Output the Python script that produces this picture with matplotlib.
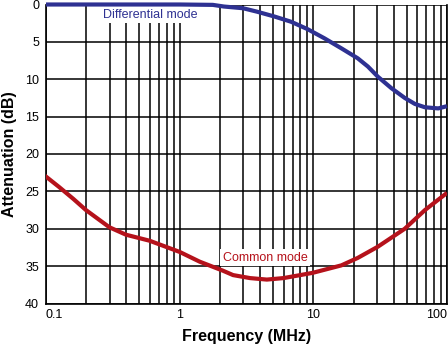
import numpy as np
import matplotlib
matplotlib.use("Agg")
import matplotlib.pyplot as plt
from matplotlib.ticker import FixedLocator, NullFormatter

plt.rcParams['font.family'] = ['Liberation Sans', 'DejaVu Sans']

# Data
diff_freq = [0.1, 0.5, 1.0, 1.77, 2.14, 2.98, 3.79, 5.1, 6.8, 9.06, 12.1, 16.2, 21.5, 25.6, 30.4, 38.4, 48.3, 57.5, 68.4, 86.0, 100.0]
diff_att = [0.0, 0.0, 0.0, 0.05, 0.27, 0.5, 0.96, 1.6, 2.3, 3.3, 4.52, 5.86, 7.2, 8.3, 9.66, 11.2, 12.5, 13.3, 13.75, 13.9, 13.6]

cm_freq = [0.098, 0.125, 0.16, 0.199, 0.298, 0.397, 0.595, 1.0, 1.41, 2.1, 2.51, 3.36, 4.49, 5.98, 7.98, 9.88, 16.2, 21.5, 30.4, 48.3, 68.4, 100.0]
cm_att = [22.9, 24.4, 26.0, 27.5, 29.8, 30.8, 31.6, 33.1, 34.4, 35.6, 36.2, 36.6, 36.8, 36.6, 36.2, 35.9, 34.9, 33.9, 32.4, 30.0, 27.5, 25.2]

x_ticks = [0.1, 1, 10, 100]
x_tick_labels = ["0.1", "1", "10", "100"]
y_ticks = [0, 5, 10, 15, 20, 25, 30, 35, 40]

blue = "#2e3192"
red = "#b5121b"

fig = plt.figure(figsize=(4.48, 3.44), dpi=100)
ax = fig.add_axes([46/448, 40.5/344, 401/448, 299/344])

ax.set_xscale('log')
ax.set_xlim(0.1, 100)
ax.set_ylim(40, 0)

ax.xaxis.set_major_locator(FixedLocator(x_ticks))
minor = [m * d for d in (0.1, 1, 10) for m in range(2, 10)]
ax.xaxis.set_minor_locator(FixedLocator(minor))
ax.xaxis.set_minor_formatter(NullFormatter())
ax.set_xticklabels(x_tick_labels)
ax.set_yticks(y_ticks)

ax.grid(True, which='both', axis='x', color='black', lw=1.1, zorder=1)
ax.grid(True, which='major', axis='y', color='black', lw=1.1, zorder=1)
ax.set_axisbelow(True)

ax.tick_params(axis='both', which='both', length=0, labelsize=9)
ax.tick_params(axis='y', pad=5)
ax.tick_params(axis='x', pad=4)
labels = ax.get_xticklabels()
labels[0].set_horizontalalignment('left')
labels[-1].set_horizontalalignment('right')

ax.spines['top'].set_visible(False)
for s in ['left', 'bottom', 'right']:
    ax.spines[s].set_linewidth(1.2)

ax.plot(diff_freq, diff_att, color=blue, lw=3.0, zorder=4, clip_on=False, solid_capstyle='butt')
ax.plot(cm_freq, cm_att, color=red, lw=3.0, zorder=4, clip_on=True, solid_capstyle='butt')

ax.text(0.605, 1.4, "Differential mode", color=blue, fontsize=9, ha='center', va='center',
        zorder=3, bbox=dict(boxstyle='square,pad=0.2', fc='white', ec='none'))
ax.text(4.36, 33.9, "Common mode", color=red, fontsize=9, ha='center', va='center',
        zorder=3, bbox=dict(boxstyle='square,pad=0.2', fc='white', ec='none'))

ax.set_xlabel("Frequency (MHz)", fontsize=11.5, fontweight='bold', labelpad=6)
ax.set_ylabel("Attenuation (dB)", fontsize=11.5, fontweight='bold', labelpad=6)

fig.savefig("out.png", dpi=100)
